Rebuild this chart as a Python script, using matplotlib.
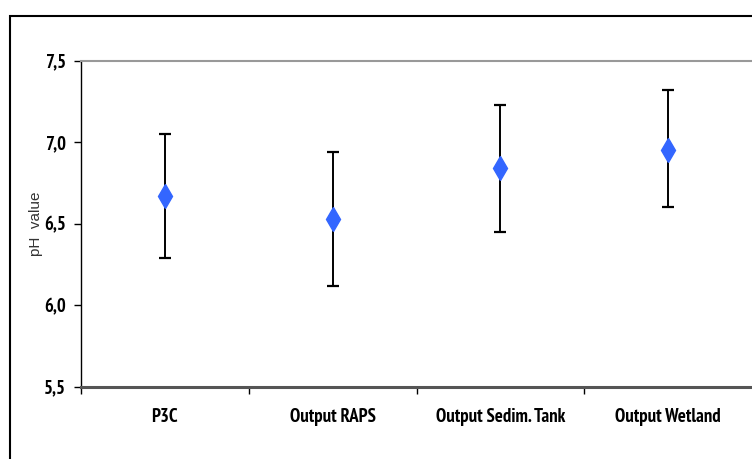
import matplotlib
matplotlib.use("Agg")
import matplotlib.pyplot as plt
from matplotlib.patches import Rectangle
import numpy as np

categories = ["P3C", "Output RAPS", "Output Sedim. Tank", "Output Wetland"]
ph_mean = [6.67, 6.53, 6.84, 6.95]
ph_upper = [7.05, 6.94, 7.23, 7.32]
ph_lower = [6.29, 6.12, 6.45, 6.60]
y_ticks = [5.5, 6.0, 6.5, 7.0, 7.5]
y_tick_labels = ["5,5", "6,0", "6,5", "7,0", "7,5"]

narrow = ["PT Sans Narrow", "Roboto Condensed", "Archivo Narrow", "Barlow Condensed", "DejaVu Sans"]

fig = plt.figure(figsize=(7.52, 4.59), dpi=100)
fig.patch.set_facecolor("white")
fig.patches.append(Rectangle((10 / 752, -0.1), 1.2, 1 - 16 / 459 + 0.1,
                             transform=fig.transFigure, fill=False,
                             edgecolor="black", linewidth=1.5))

ax = fig.add_axes([81 / 752, 1 - 386.7 / 459, 1 - 81 / 752, (386.7 - 60.7) / 459])
x = np.arange(len(categories))
mean = np.array(ph_mean)
err = [mean - np.array(ph_lower), np.array(ph_upper) - mean]
ax.errorbar(x, mean, yerr=err, fmt="none", ecolor="black", elinewidth=1.4,
            capsize=4, capthick=1.6, zorder=2)
ax.plot(x, mean, linestyle="none", marker="d", markersize=12,
        color="#3366FF", markeredgecolor="#3366FF", zorder=3)

ax.set_xlim(-0.5, 3.5)
ax.set_ylim(5.5, 7.5)

ax.spines["top"].set_color("#999999")
ax.spines["top"].set_linewidth(1.5)
ax.spines["bottom"].set_color("#555555")
ax.spines["bottom"].set_linewidth(2.2)
ax.spines["left"].set_color("black")
ax.spines["left"].set_linewidth(1.0)
ax.spines["right"].set_visible(False)

ax.set_yticks(y_ticks)
ax.set_yticklabels(y_tick_labels, fontfamily=narrow, fontweight="bold", fontsize=13.5)
ax.tick_params(axis="y", direction="out", length=5, width=1, color="black", pad=6)

ax.set_xticks(np.arange(-0.5, 3.0, 1.0))
ax.set_xticklabels([])
ax.set_xticks(x, minor=True)
ax.set_xticklabels(categories, minor=True, fontfamily=narrow, fontweight="bold", fontsize=13.5)
ax.tick_params(axis="x", which="major", direction="out", length=5, width=1, color="black")
ax.tick_params(axis="x", which="minor", length=0, pad=15)

ax.set_ylabel("pH  value", fontfamily=["Liberation Sans", "DejaVu Sans"], fontsize=11,
              color="#333333")
ax.yaxis.set_label_coords(-38 / 671, 0.5)

fig.savefig("out.png", dpi=100, facecolor="white")
